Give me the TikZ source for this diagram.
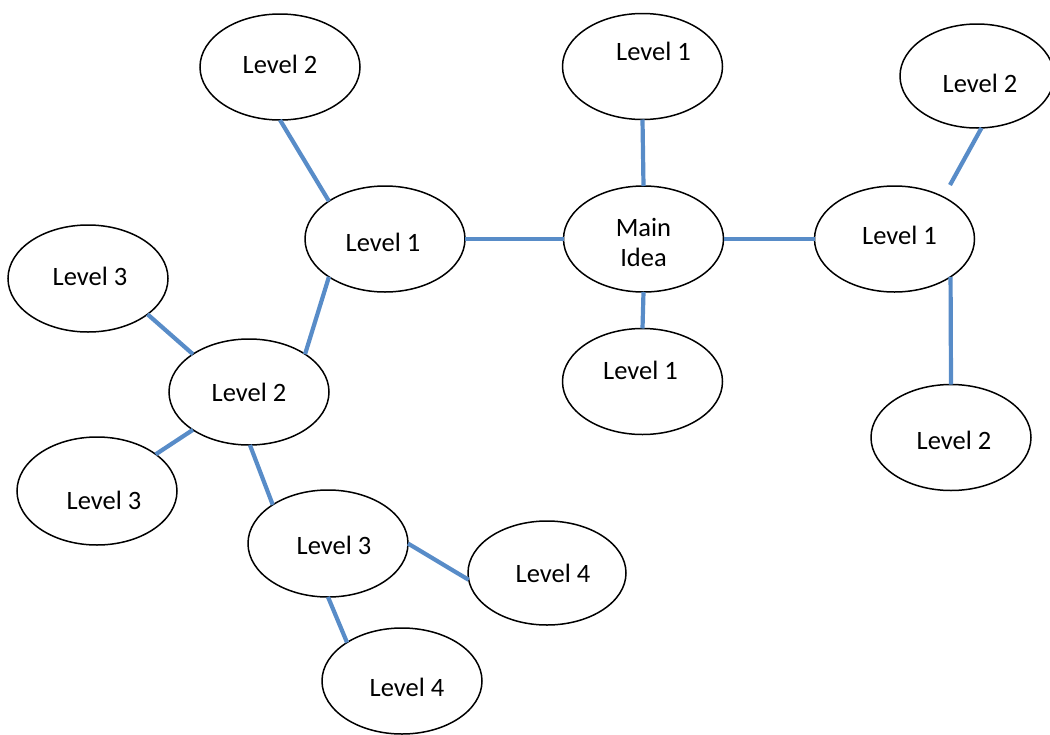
\documentclass[tikz,border=0pt]{standalone}
\usepackage{fontspec}
\setmainfont{Carlito}
\usetikzlibrary{shapes.geometric}
\definecolor{linkblue}{RGB}{88,140,200}
\tikzset{
  bubble/.style={ellipse, draw=black, line width=1.5pt, fill=white,
    inner sep=0pt, outer sep=0pt, minimum width=160pt, minimum height=106pt},
  txt/.style={inner sep=0pt, align=center,
    font=\fontsize{26.5}{30}\selectfont},
  link/.style={draw=linkblue, line width=4.2pt}
}
\begin{document}
\begin{tikzpicture}[x=1pt, y=-1pt]
\useasboundingbox (0,0) rectangle (1050,734);

% ellipses
\node[bubble] (main) at (643.5,239) {};
\node[bubble] (l1t)  at (642.5,66.5) {};
\node[bubble] (l1b)  at (642.5,381.5) {};
\node[bubble] (l1l)  at (385,239) {};
\node[bubble] (l1r)  at (894.5,239) {};
\node[bubble, minimum width=154pt, minimum height=104pt] (l2tr) at (977,76) {};
\node[bubble] (l2br) at (951,437.5) {};
\node[bubble] (l2tl) at (280,67) {};
\node[bubble] (l2l)  at (249,392) {};
\node[bubble, minimum height=107pt] (l3tl) at (88,278.5) {};
\node[bubble, minimum height=108pt] (l3bl) at (97,491) {};
\node[bubble, minimum height=107pt] (l3)   at (328,543.5) {};
\node[bubble, minimum width=158pt, minimum height=104pt] (l4r) at (547,573) {};
\node[bubble] (l4b)  at (402,681) {};

% labels
\node[txt, yshift=-3pt] (main-t) at (main) {Main\\Idea};
\node[txt, xshift=11pt, yshift=15pt] (l1t-t) at (l1t) {Level 1};
\node[txt, xshift=-2pt, yshift=11pt] (l1b-t) at (l1b) {Level 1};
\node[txt, xshift=-2pt, yshift=-3pt] (l1l-t) at (l1l) {Level 1};
\node[txt, xshift=5pt, yshift=4pt] (l1r-t) at (l1r) {Level 1};
\node[txt, xshift=3pt, yshift=-7pt] (l2tr-t) at (l2tr) {Level 2};
\node[txt, xshift=3pt, yshift=-3pt] (l2br-t) at (l2br) {Level 2};
\node[txt, yshift=3pt] (l2tl-t) at (l2tl) {Level 2};
\node[txt] (l2l-t) at (l2l) {Level 2};
\node[txt, xshift=2pt, yshift=2pt] (l3tl-t) at (l3tl) {Level 3};
\node[txt, xshift=7pt, yshift=-9pt] (l3bl-t) at (l3bl) {Level 3};
\node[txt, xshift=6pt, yshift=-2pt] (l3-t) at (l3) {Level 3};
\node[txt, xshift=6pt] (l4r-t) at (l4r) {Level 4};
\node[txt, xshift=5pt, yshift=-6pt] (l4b-t) at (l4b) {Level 4};

% connectors
\coordinate (l2tr-end) at (950,185);
\draw[link] (l1l.east) -- (main.west);
\draw[link] (main.east) -- (l1r.west);
\draw[link] (l1t.south) -- (main.north);
\draw[link] (main.south) -- (l1b.north);
\draw[link] (l2tr.-85.6) -- (l2tr-end);
\draw[link] (l1r.-34.7) -- (l2br.north);
\draw[link] (l2tl.south) -- (l1l.146.7);
\draw[link] (l1l.-146.7) -- (l2l.34.4);
\draw[link] (l2l.146.5) -- (l3tl.-31.5);
\draw[link] (l2l.-146.5) -- (l3bl.32.7);
\draw[link] (l2l.-89) -- (l3.145.7);
\draw[link] (l3.east) -- (l4r.-175);
\draw[link] (l3.south) -- (l4b.145);
\end{tikzpicture}
\end{document}
